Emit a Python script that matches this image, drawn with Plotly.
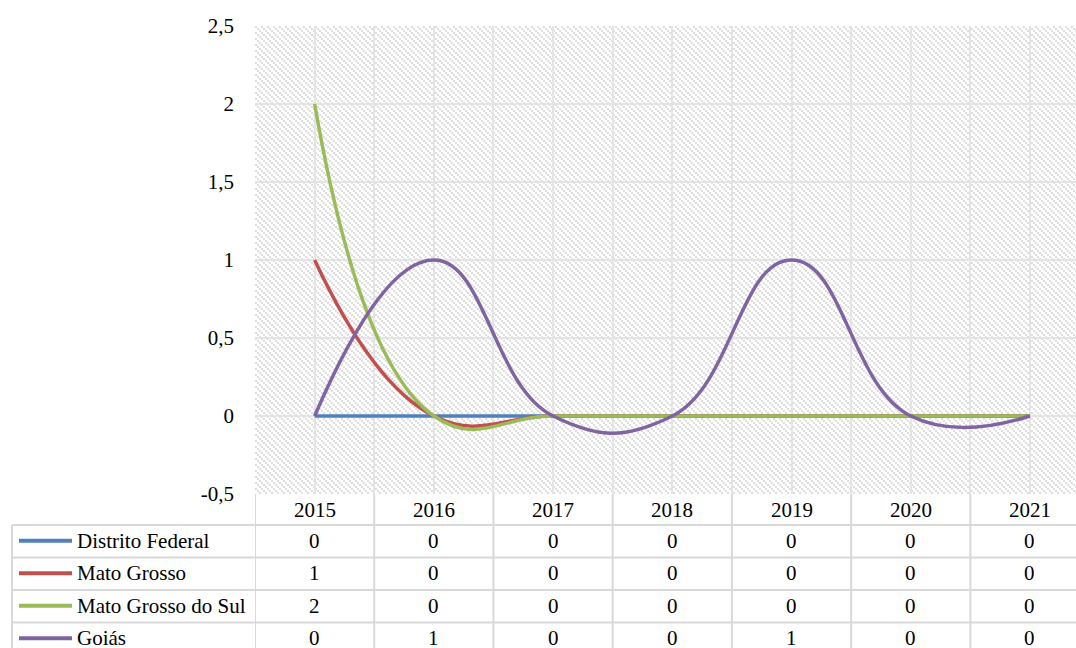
import base64
import struct
import zlib

import plotly.graph_objects as go

# ---- data -----------------------------------------------------------------
years = ["2015", "2016", "2017", "2018", "2019", "2020", "2021"]
distrito_federal = [0, 0, 0, 0, 0, 0, 0]
mato_grosso = [1, 0, 0, 0, 0, 0, 0]
mato_grosso_do_sul = [2, 0, 0, 0, 0, 0, 0]
goias = [0, 1, 0, 0, 1, 0, 0]

series_names = ["Distrito Federal", "Mato Grosso", "Mato Grosso do Sul", "Goiás"]
series_values = [distrito_federal, mato_grosso, mato_grosso_do_sul, goias]
series_colors = ["#4F81BD", "#C0504D", "#9BBB59", "#8064A2"]

y_tick_vals = [-0.5, 0, 0.5, 1, 1.5, 2, 2.5]
y_tick_text = ["-0,5", "0", "0,5", "1", "1,5", "2", "2,5"]

# ---- geometry (pixels) ----------------------------------------------------
W, H = 1076, 648
ML, MT, MB = 255, 26, 154
PW, PH = W - ML, H - MT - MB
FONT = "Liberation Serif"
FONT_SIZE = 21
GRID = "#e4e4e4"
TABLE_LINE = "#d9d9d9"


def paper_x(px):
    return (px - ML) / PW


def paper_y(py):
    return (MT + PH - py) / PH


def hatch_png(w, h):
    """Grey diagonal hatch used as the plot-area fill."""
    raw = bytearray()
    for y in range(h):
        raw.append(0)
        by = y // 2
        for x in range(w):
            bx = x // 2
            raw.append(222 if (bx - by) % 3 == 0 else 255)

    def chunk(tag, data):
        return (struct.pack(">I", len(data)) + tag + data
                + struct.pack(">I", zlib.crc32(tag + data) & 0xFFFFFFFF))

    png = (b"\x89PNG\r\n\x1a\n"
           + chunk(b"IHDR", struct.pack(">IIBBBBB", w, h, 8, 0, 0, 0, 0))
           + chunk(b"IDAT", zlib.compress(bytes(raw), 9))
           + chunk(b"IEND", b""))
    return "data:image/png;base64," + base64.b64encode(png).decode()


idx = list(range(len(years)))
fig = go.Figure()

for name, vals, color in zip(series_names, series_values, series_colors):
    fig.add_trace(go.Scatter(
        x=idx, y=vals, name=name, mode="lines",
        line=dict(color=color, width=3.5, shape="spline", smoothing=1.3),
        showlegend=False,
    ))

half_steps = [i / 2 for i in range(-1, 2 * len(years))]

shapes = []
annotations = []
cell_font = dict(family=FONT, size=FONT_SIZE, color="black")

# table row boundaries
row_edges = [525, 557.5, 590, 622.5, 655]
for ry in row_edges[:-1]:
    shapes.append(dict(type="line", xref="paper", yref="paper",
                       x0=paper_x(12), x1=1.0, y0=paper_y(ry), y1=paper_y(ry),
                       line=dict(color=TABLE_LINE, width=2)))
# column boundaries of the table
for c in range(len(years)):
    shapes.append(dict(type="line", xref="x", yref="paper",
                       x0=c - 0.5, x1=c - 0.5, y0=0, y1=paper_y(660),
                       line=dict(color=TABLE_LINE, width=2)))
shapes.append(dict(type="line", xref="paper", yref="paper",
                   x0=paper_x(12), x1=paper_x(12), y0=paper_y(525), y1=paper_y(660),
                   line=dict(color=TABLE_LINE, width=2)))

# year header
for i, yr in enumerate(years):
    annotations.append(dict(xref="x", yref="paper", x=i, y=paper_y(510),
                            text=yr, showarrow=False, xanchor="center", yanchor="middle",
                            height=20, valign="middle", font=cell_font))

# series rows: legend key, name and values
for r, (name, vals, color) in enumerate(zip(series_names, series_values, series_colors)):
    cy = (row_edges[r] + row_edges[r + 1]) / 2 - 0.5
    shapes.append(dict(type="line", xref="paper", yref="paper",
                       x0=paper_x(19), x1=paper_x(72), y0=paper_y(cy), y1=paper_y(cy),
                       line=dict(color=color, width=4)))
    annotations.append(dict(xref="paper", yref="paper", x=paper_x(75), y=paper_y(cy),
                            text=name, showarrow=False, xanchor="left", yanchor="middle",
                            height=20, valign="middle", font=cell_font))
    for i, v in enumerate(vals):
        annotations.append(dict(xref="x", yref="paper", x=i, y=paper_y(cy),
                                text=str(v), showarrow=False, xanchor="center",
                                yanchor="middle", height=20, valign="middle",
                                font=cell_font))

fig.update_layout(
    width=W, height=H, autosize=False,
    margin=dict(l=ML, r=0, t=MT, b=MB, pad=0),
    paper_bgcolor="white", plot_bgcolor="white",
    font=dict(family=FONT, size=FONT_SIZE, color="black"),
    images=[dict(source=hatch_png(PW, PH), xref="paper", yref="paper",
                 x=0, y=1, sizex=1, sizey=1, sizing="stretch",
                 xanchor="left", yanchor="top", layer="below")],
    shapes=shapes,
    annotations=annotations,
    xaxis=dict(range=[-0.5, (W - 315) / ((1030 - 315) / 6)],
               tickvals=half_steps, showticklabels=False, ticks="",
               showgrid=True, gridcolor=GRID, gridwidth=2,
               zeroline=False, showline=False),
    yaxis=dict(range=[-0.5, 2.5], tickvals=y_tick_vals, ticktext=y_tick_text,
               ticks="", ticklabelstandoff=20,
               showgrid=True, gridcolor=GRID, gridwidth=2,
               zeroline=False, showline=False,
               tickfont=dict(family=FONT, size=FONT_SIZE, color="black")),
    hovermode=False,
)

fig.write_html("out.html")
